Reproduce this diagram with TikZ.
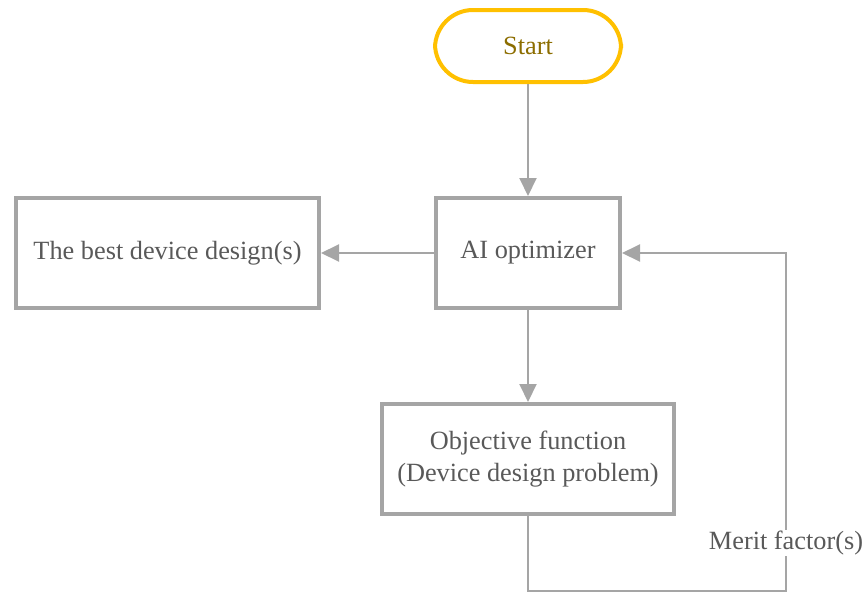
\documentclass[tikz,border=0pt]{standalone}
\usepackage{fontspec}
\setmainfont{Liberation Serif}
\usetikzlibrary{arrows.meta}
\definecolor{boxgray}{HTML}{A5A5A5}
\definecolor{txtgray}{HTML}{595959}
\definecolor{startyel}{HTML}{FFC000}
\definecolor{starttxt}{HTML}{8C6D00}
\begin{document}
\begin{tikzpicture}[x=1pt,y=-1pt,
  every node/.style={font=\fontsize{26.3}{32}\selectfont},
  procbox/.style={draw=boxgray,line width=4pt,rectangle,text=txtgray,align=center,inner sep=0pt},
  startbox/.style={draw=startyel,line width=4pt,rounded corners=38pt,text=starttxt,inner sep=0pt},
  conn/.style={draw=boxgray,line width=2pt,-{Triangle[length=18pt,width=17pt]}}
]
\useasboundingbox (0,0) rectangle (867,597);
\node[startbox,minimum width=186pt,minimum height=72pt] (start) at (528,46) {Start};
\node[procbox,minimum width=184pt,minimum height=110pt] (ai) at (528,253) {AI optimizer};
\node[procbox,minimum width=303pt,minimum height=110pt] (best) at (167.5,253) {The best device design(s)};
\node[procbox,minimum width=292pt,minimum height=110pt] (obj) at (528,459) {Objective function\\(Device design problem)};
\coordinate (c1) at (528,591);
\coordinate (c2) at (786,591);
\coordinate (c3) at (786,253);
\draw[conn] (start) -- (ai);
\draw[conn] (ai) -- (best);
\draw[conn] (ai) -- (obj);
\draw[conn] (obj) -- (c1) -- (c2) -- (c3) -- (ai);
\node[fill=white,text=txtgray,inner sep=1pt] (merit) at (786,543) {Merit factor(s)};
\end{tikzpicture}
\end{document}
